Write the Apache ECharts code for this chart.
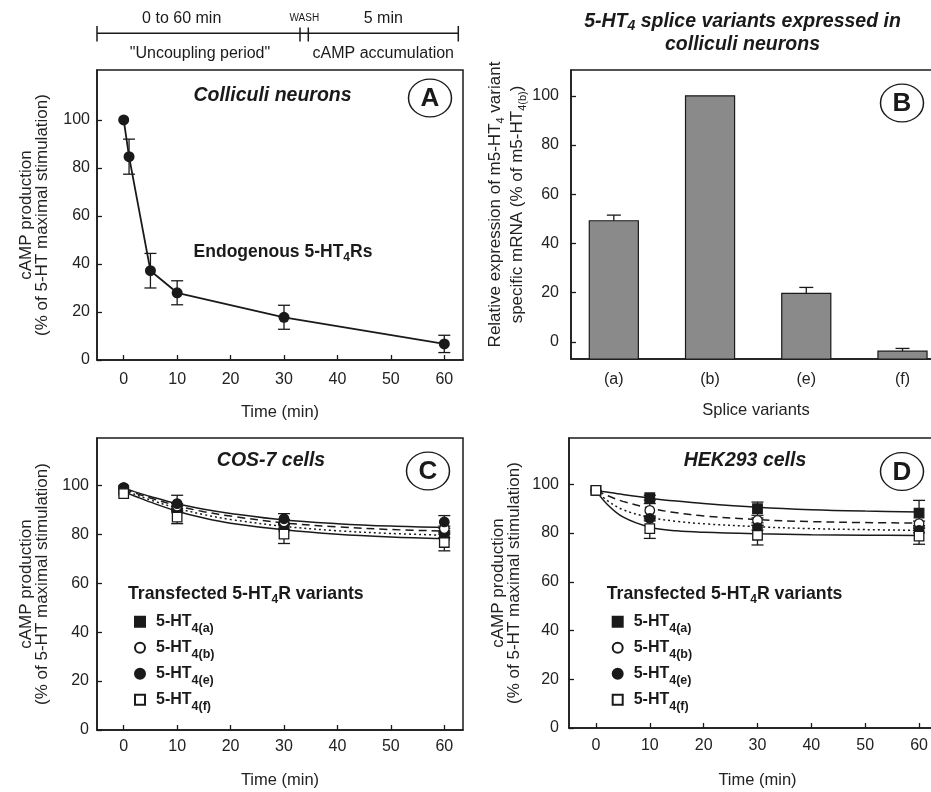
<!DOCTYPE html>
<html><head><meta charset="utf-8">
<script src="https://cdn.jsdelivr.net/npm/echarts@6/dist/echarts.min.js"></script>
<style>html,body{margin:0;padding:0;background:#fff}#c{width:931px;height:792px}</style>
</head><body><div id="c"></div>
<script>
const FONT = '"Liberation Sans", Arial, Helvetica, sans-serif';
const INK = '#1a1a1a';

// ---------- Panel A: colliculi neurons ----------
const timeA = [0, 1, 5, 10, 30, 60];
const campA = [100, 84.7, 37.2, 28, 17.8, 6.7];
const errA  = [0, 7.3, 7.2, 5, 5, 3.6];

// ---------- Panel B: splice variant expression ----------
const spliceCats = ['(a)', '(b)', '(e)', '(f)'];
const spliceExpr = [49.2, 100, 19.7, -3.8];
const spliceErr  = [2.3, 0, 2.4, 1.1];

// ---------- Panels C & D: markers ----------
const timeCD = [0, 10, 30, 60];
const variantNames = ['5-HT4(a)', '5-HT4(b)', '5-HT4(e)', '5-HT4(f)'];

const cosA = [98, 90.5, 83, 79.6];
const cosB = [99, 91.5, 85, 82.3];
const cosE = [99, 92.5, 86.3, 85];
const cosF = [96.6, 87, 80, 76.6];
const cosErrA = [0, 1, 1, 1];
const cosErrB = [0, 1, 1, 1];
const cosErrE = [0, 3.4, 2.1, 2.6];
const cosErrF = [0, 2.7, 3.8, 3.4];

const hekA = [97.5, 94.5, 90, 88.2];
const hekB = [97.5, 89.3, 85.2, 83.9];
const hekE = [97.5, 86, 82.2, 81.1];
const hekF = [97.5, 81.8, 79.1, 78.7];
const hekErrA = [0, 1, 2.7, 5.2];
const hekErrB = [0, 2.8, 1, 1];
const hekErrE = [0, 1, 1, 1];
const hekErrF = [0, 4, 4, 3.3];

// ---------- fitted curves ----------
const curveT = [0, 2, 5, 10, 15, 20, 30, 40, 50, 60];
const cosCurveUpper  = [98.8, 97.4, 95.4, 92.4, 90.2, 88.5, 85.8, 84.3, 83.3, 82.7];
const cosCurveDashed = [98.4, 96.9, 94.8, 91.6, 89.2, 87.4, 84.6, 83.0, 81.9, 81.3];
const cosCurveDotted = [97.8, 96.3, 94.0, 90.6, 88.0, 86.0, 83.2, 81.4, 80.3, 79.6];
const cosCurveLower  = [97.3, 95.6, 93.1, 89.4, 86.6, 84.5, 81.8, 80.0, 78.9, 78.2];
const hekCurveUpper  = [97.5, 96.8, 95.8, 94.3, 93.1, 92.1, 90.6, 89.6, 89.0, 88.6];
const hekCurveDashed = [97.5, 95.5, 93.0, 90.2, 88.3, 87.0, 85.5, 84.7, 84.3, 84.1];
const hekCurveDotted = [97.5, 93.5, 89.6, 86.4, 84.8, 83.8, 82.6, 81.8, 81.4, 81.1];
const hekCurveLower  = [97.5, 92.0, 86.6, 82.4, 80.9, 80.3, 79.7, 79.3, 79.1, 79.0];

// ---------- tick labels ----------
const timeTicks = [0, 10, 20, 30, 40, 50, 60];
const pctTicks = [0, 20, 40, 60, 80, 100];
const spliceTicks = [0, 1, 2, 3];

// ---------- helpers ----------
const zip = (xs, ys, es) => xs.map((x, i) => es ? [x, ys[i], es[i]] : [x, ys[i]]);

function valAxis(gridIndex, min, max, ticks, margin, extra) {
  return Object.assign({
    type: 'value', gridIndex, min, max,
    axisLine: { show: true, onZero: false, lineStyle: { color: INK, width: 1.5 } },
    axisTick: { show: true, inside: true, length: 5, customValues: ticks, lineStyle: { color: INK, width: 1.3 } },
    axisLabel: { customValues: ticks, fontSize: 16, fontFamily: FONT, color: '#222', margin },
    splitLine: { show: false },
    nameTextStyle: { fontSize: 16.5, fontFamily: FONT, color: '#222' }
  }, extra || {});
}

function errRender(capHalf) {
  return function (params, api) {
    const x = api.value(0), y = api.value(1), e = api.value(2);
    if (!e) return null;
    const t = api.coord([x, y + e]), b = api.coord([x, y - e]);
    const st = { stroke: INK, lineWidth: 1.3 };
    return { type: 'group', children: [
      { type: 'line', shape: { x1: t[0], y1: t[1], x2: b[0], y2: b[1] }, style: st },
      { type: 'line', shape: { x1: t[0] - capHalf, y1: t[1], x2: t[0] + capHalf, y2: t[1] }, style: st },
      { type: 'line', shape: { x1: b[0] - capHalf, y1: b[1], x2: b[0] + capHalf, y2: b[1] }, style: st }
    ]};
  };
}

const markerStyles = [
  { symbol: 'rect', color: INK, borderColor: INK },
  { symbol: 'circle', color: '#fff', borderColor: INK },
  { symbol: 'circle', color: INK, borderColor: INK },
  { symbol: 'rect', color: '#fff', borderColor: INK }
];

function panelSeries(axisIdx, vals, errs, curves, tag) {
  const out = [];
  const styles = [{ type: 'solid' }, { type: [8, 5] }, { type: [2, 3] }, { type: 'solid' }];
  curves.forEach((c, i) => out.push({
    type: 'line', name: tag + '-curve' + i, xAxisIndex: axisIdx, yAxisIndex: axisIdx,
    data: zip(curveT, c), showSymbol: false, smooth: 0.35, silent: true, z: 1,
    lineStyle: Object.assign({ color: INK, width: 1.5 }, styles[i])
  }));
  vals.forEach((v, i) => out.push({
    type: 'custom', name: tag + '-err' + i, xAxisIndex: axisIdx, yAxisIndex: axisIdx,
    data: zip(timeCD, v, errs[i]), encode: { x: 0, y: 1 }, renderItem: errRender(6), z: 2
  }));
  vals.forEach((v, i) => out.push({
    type: 'scatter', name: variantNames[i], xAxisIndex: axisIdx, yAxisIndex: axisIdx,
    data: zip(timeCD, v), symbol: markerStyles[i].symbol, symbolSize: 9.5, z: 3,
    itemStyle: { color: markerStyles[i].color, borderColor: markerStyles[i].borderColor, borderWidth: 1.3, opacity: 1 }
  }));
  return out;
}

const legendRich = {
  m: { fontSize: 16, fontWeight: 'bold', fontFamily: FONT, color: INK, lineHeight: 26, padding: [0, 0, 0, 6] },
  s: { fontSize: 12.5, fontWeight: 'bold', fontFamily: FONT, color: INK, lineHeight: 12, verticalAlign: 'bottom' }
};
function legendCfg(left) {
  return {
    left, top: 608.7, orient: 'vertical', itemGap: 5, itemWidth: 10, itemHeight: 10,
    selectedMode: false, data: variantNames,
    formatter: n => '{m|5-HT}{s|' + n.slice(4) + '}',
    textStyle: { rich: legendRich }
  };
}

const subRich = (size, style, lh) => ({
  m: { fontSize: size, fontWeight: 'bold', fontStyle: style || 'normal', fontFamily: FONT, fill: INK, color: INK, lineHeight: lh || size + 5 },
  s: { fontSize: Math.round(size * 0.7), fontWeight: 'bold', fontStyle: style || 'normal', fontFamily: FONT, fill: INK, color: INK, lineHeight: 10, verticalAlign: 'bottom' }
});

function txt(x, y, text, font, align, extra) {
  return { type: 'text', x, y, style: Object.assign({ text, font, fill: INK, align: align || 'center', verticalAlign: 'middle' }, extra || {}) };
}
function letter(cx, cy, L) {
  return [
    { type: 'circle', x: cx, y: cy, scaleY: 0.88, shape: { cx: 0, cy: 0, r: 21.5 }, style: { fill: '#fff', stroke: INK, lineWidth: 1.5 } },
    txt(cx, cy + 1, L, 'bold 26px ' + FONT)
  ];
}
function seg(x1, y1, x2, y2) {
  return { type: 'line', shape: { x1, y1, x2, y2 }, style: { stroke: INK, lineWidth: 1.5 } };
}

const chart = echarts.init(document.getElementById('c'), null, { renderer: 'canvas' });
const gridBase = { show: true, borderColor: INK, borderWidth: 1.5, backgroundColor: 'transparent', containLabel: false, outerBoundsMode: 'none' };
const campName = 'cAMP production\n(% of 5-HT maximal stimulation)';
const campNameStyle = { fontSize: 17, lineHeight: 15.5, fontFamily: FONT, color: '#222' };

const option = {
  animation: false,
  backgroundColor: '#fff',
  textStyle: { fontFamily: FONT },
  grid: [
    Object.assign({ left: 97, top: 70, width: 366, height: 290 }, gridBase),
    Object.assign({ left: 571, top: 70, width: 370, height: 289 }, gridBase),
    Object.assign({ left: 97, top: 438, width: 366, height: 292 }, gridBase),
    Object.assign({ left: 569, top: 438, width: 377, height: 290 }, gridBase)
  ],
  xAxis: [
    valAxis(0, -5, 63.5, timeTicks, 12, { name: 'Time (min)', nameLocation: 'middle', nameGap: 44 }),
    valAxis(1, -0.445, 3.40, spliceTicks, 13, {
      name: 'Splice variants', nameLocation: 'middle', nameGap: 43,
      axisTick: { show: false },
      axisLabel: { customValues: spliceTicks, fontSize: 16, fontFamily: FONT, color: '#222', margin: 13, formatter: v => spliceCats[Math.round(v)] }
    }),
    valAxis(2, -5, 63.5, timeTicks, 9, { name: 'Time (min)', nameLocation: 'middle', nameGap: 42 }),
    valAxis(3, -5, 65, timeTicks, 10, { name: 'Time (min)', nameLocation: 'middle', nameGap: 44 })
  ],
  yAxis: [
    valAxis(0, 0, 120.8, pctTicks, 7, { name: campName, nameLocation: 'middle', nameRotate: 90, nameGap: 47, nameTextStyle: campNameStyle }),
    valAxis(1, -7, 110.5, pctTicks, 12, {
      name: '{m|Relative expression of m5-HT}{s|4}{m| variant}\n{m|specific mRNA (% of m5-HT}{s|4(b)}{m|)}',
      nameLocation: 'middle', nameRotate: 90, nameGap: 40,
      nameTextStyle: { padding: [0, 0, 0, 20], rich: {
        m: { fontSize: 17, lineHeight: 22, fontFamily: FONT, color: '#222' },
        s: { fontSize: 11, lineHeight: 9, fontFamily: FONT, color: '#222', verticalAlign: 'bottom' }
      } }
    }),
    valAxis(2, 0, 119.3, pctTicks, 8, { name: campName, nameLocation: 'middle', nameRotate: 90, nameGap: 47, nameTextStyle: campNameStyle }),
    valAxis(3, 0, 119, pctTicks, 10, { name: campName, nameLocation: 'middle', nameRotate: 90, nameGap: 47, nameTextStyle: campNameStyle })
  ],
  legend: [legendCfg(129), legendCfg(606.7)],
  series: [
    {
      type: 'line', name: 'colliculi', xAxisIndex: 0, yAxisIndex: 0, data: zip(timeA, campA),
      symbol: 'circle', symbolSize: 11, z: 3,
      itemStyle: { color: INK }, lineStyle: { color: INK, width: 1.8 }
    },
    {
      type: 'custom', name: 'colliculi-err', xAxisIndex: 0, yAxisIndex: 0, data: zip(timeA, campA, errA),
      encode: { x: 0, y: 1 }, renderItem: errRender(6), z: 2
    },
    {
      type: 'custom', name: 'splice-bars', xAxisIndex: 1, yAxisIndex: 1,
      data: spliceCats.map((c, i) => [i, spliceExpr[i], spliceErr[i]]),
      encode: { x: 0, y: 1 },
      renderItem: function (params, api) {
        const x = api.value(0), v = api.value(1), e = api.value(2);
        const p = api.coord([x, v]);
        const w = api.size([0.51, 0])[0];
        const cs = params.coordSys;
        const bottom = cs.y + cs.height;
        const children = [{ type: 'rect', shape: { x: p[0] - w / 2, y: p[1], width: w, height: bottom - p[1] },
          style: { fill: '#8a8a8a', stroke: INK, lineWidth: 1.2 } }];
        if (e > 0) {
          const t = api.coord([x, v + e]);
          const st = { stroke: INK, lineWidth: 1.3 };
          children.push({ type: 'line', shape: { x1: p[0], y1: p[1], x2: t[0], y2: t[1] }, style: st });
          children.push({ type: 'line', shape: { x1: t[0] - 7, y1: t[1], x2: t[0] + 7, y2: t[1] }, style: st });
        }
        return { type: 'group', children };
      }
    }
  ]
    .concat(panelSeries(2, [cosA, cosB, cosE, cosF], [cosErrA, cosErrB, cosErrE, cosErrF],
      [cosCurveUpper, cosCurveDashed, cosCurveDotted, cosCurveLower], 'cos'))
    .concat(panelSeries(3, [hekA, hekB, hekE, hekF], [hekErrA, hekErrB, hekErrE, hekErrF],
      [hekCurveUpper, hekCurveDashed, hekCurveDotted, hekCurveLower], 'hek')),
  graphic: [
    // timeline
    seg(97, 33.3, 458.3, 33.3),
    seg(97, 26, 97, 41.5),
    seg(458.3, 26, 458.3, 41.5),
    seg(300, 27.5, 300, 41.5),
    seg(308.3, 27.5, 308.3, 41.5),
    txt(181.7, 19, '0 to 60 min', '16px ' + FONT),
    txt(304.3, 18.5, 'WASH', '10px ' + FONT),
    txt(383.3, 19, '5 min', '16px ' + FONT),
    txt(200, 54, '"Uncoupling period"', '16px ' + FONT),
    txt(383.3, 54, 'cAMP accumulation', '16px ' + FONT),
    // titles
    txt(272.5, 96, 'Colliculi neurons', 'italic bold 19.5px ' + FONT),
    txt(271, 461, 'COS-7 cells', 'italic bold 19.5px ' + FONT),
    txt(745, 461, 'HEK293 cells', 'italic bold 19.5px ' + FONT),
    txt(742.5, 33, '{m|5-HT}{s|4}{m| splice variants expressed in}\n{m|colliculi neurons}', null, 'center',
      { rich: subRich(19.5, 'italic', 23) }),
    txt(283, 252, '{m|Endogenous 5-HT}{s|4}{m|Rs}', null, 'center', { rich: subRich(17.5) }),
    txt(128, 594, '{m|Transfected 5-HT}{s|4}{m|R variants}', null, 'left', { rich: subRich(17.7) }),
    txt(606.7, 594, '{m|Transfected 5-HT}{s|4}{m|R variants}', null, 'left', { rich: subRich(17.7) })
  ]
    .concat(letter(430, 98, 'A'))
    .concat(letter(902, 103, 'B'))
    .concat(letter(428, 471, 'C'))
    .concat(letter(902, 471.5, 'D'))
};
chart.setOption(option);
</script>
</body></html>
